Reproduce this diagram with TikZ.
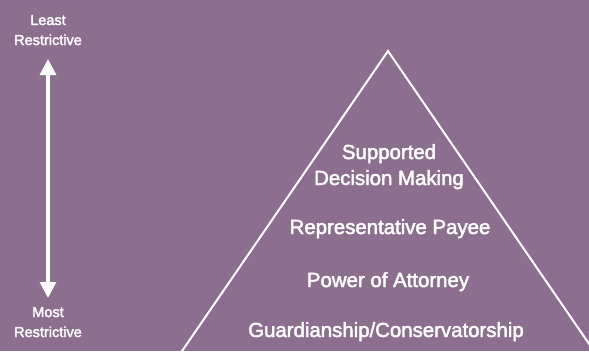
\documentclass[tikz,border=0pt]{standalone}
\usepackage{fontspec}
\setmainfont{Liberation Sans}
\newfontfamily\heavysans[FakeBold=2.2]{Liberation Sans}
\usetikzlibrary{arrows.meta}
\definecolor{bgplum}{RGB}{140,110,142}
\begin{document}
\begin{tikzpicture}[x=1pt,y=-1pt,
  tierlabel/.style={text=white,font=\heavysans\fontsize{20.4}{26}\selectfont,align=center,inner sep=0pt},
  sidelabel/.style={text=white,font=\heavysans\fontsize{14.5}{20}\selectfont,align=center,inner sep=0pt},
  outline/.style={draw=white,line width=2pt,line join=miter},
  scalearrow/.style={draw=white,line width=3.3pt,
    {Triangle[width=16pt,length=16pt]}-{Triangle[width=16pt,length=16pt]}}]
  % background and page frame
  \fill[bgplum] (0,0) rectangle (589,351);
  \useasboundingbox (0,0) rectangle (589,351);

  % pyramid outline, running off the lower edge
  \begin{scope}
    \clip (0,0) rectangle (589,351);
    \coordinate (apex) at (388,51);
    \coordinate (baseL) at (180,354);
    \coordinate (baseR) at (596,354);
    \draw[outline] (baseL) -- (apex) -- (baseR);
  \end{scope}

  % tiers of the pyramid
  \node[tierlabel,anchor=base] (sdm) at (389,159) {Supported};
  \node[tierlabel,anchor=base] (sdm2) at (389,185) {Decision Making};
  \node[tierlabel,anchor=base] (payee) at (390,234) {Representative Payee};
  \node[tierlabel,anchor=base] (poa) at (388,287) {Power of Attorney};
  \node[tierlabel,anchor=base] (guard) at (386,337) {Guardianship/Conservatorship};

  % restrictiveness scale
  \node[sidelabel,anchor=base] (least) at (48,25) {Least};
  \node[sidelabel,anchor=base] (least2) at (48,45) {Restrictive};
  \node[sidelabel,anchor=base] (most) at (48,317) {Most};
  \node[sidelabel,anchor=base] (most2) at (48,337) {Restrictive};
  \coordinate (up) at (48,59);
  \coordinate (down) at (48,298);
  \draw[scalearrow] (up) -- (down);
\end{tikzpicture}
\end{document}
